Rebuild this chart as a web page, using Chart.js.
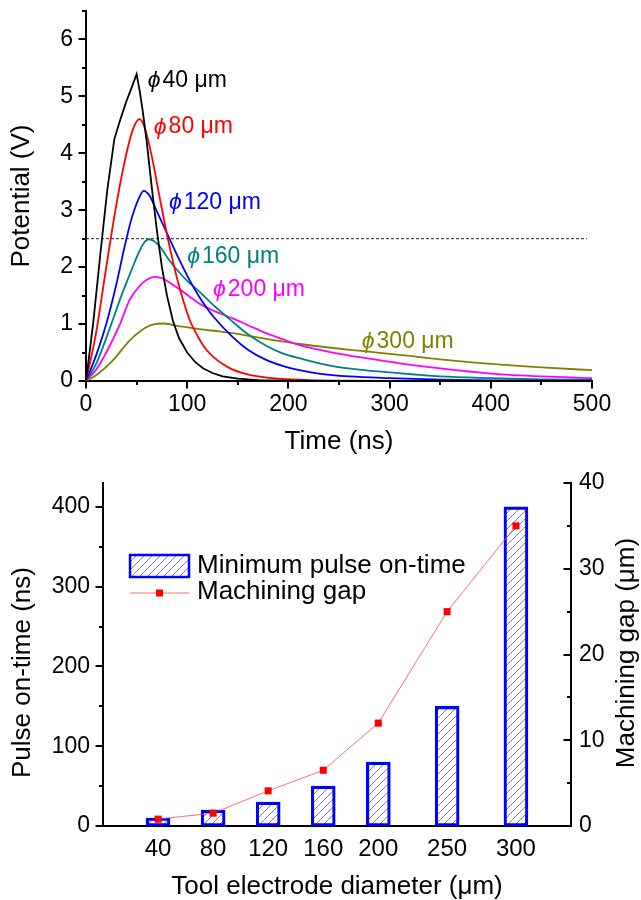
<!DOCTYPE html>
<html><head><meta charset="utf-8">
<script src="https://cdn.jsdelivr.net/npm/chart.js@4.4.0/dist/chart.umd.min.js"></script>
<style>
html,body{margin:0;padding:0;background:#fff;overflow:hidden;width:641px;height:900px;}
#c1{position:absolute;left:0;top:0;}
#c2{position:absolute;left:0;top:468px;}
</style></head><body>
<canvas id="c1" width="641" height="468"></canvas>
<canvas id="c2" width="641" height="432"></canvas>
<script>
// ---------- Top chart data: potential (V) vs time (ns) ----------
const t40 = [0, 7, 14, 21, 28, 34, 40, 45, 50, 53, 56, 60, 65, 70, 75, 80, 86, 92, 100, 108, 116, 125, 135, 150, 170, 200, 250, 500];
const v40 = [0, 1.0, 2.2, 3.35, 4.25, 4.6, 4.92, 5.15, 5.39, 5.1, 4.75, 4.2, 3.4, 2.65, 2.0, 1.5, 1.05, 0.75, 0.5, 0.33, 0.22, 0.14, 0.08, 0.04, 0.015, 0.005, 0, 0];
const t80 = [0, 10, 20, 30, 40, 47, 53, 58, 65, 72, 78, 84, 90, 96, 103, 110, 118, 126, 135, 145, 155, 170, 190, 220, 260, 300, 500];
const v80 = [0, 0.85, 2.0, 3.1, 4.0, 4.45, 4.6, 4.45, 3.95, 3.3, 2.75, 2.25, 1.8, 1.42, 1.05, 0.8, 0.57, 0.42, 0.3, 0.2, 0.14, 0.08, 0.04, 0.015, 0.005, 0, 0];
const t120 = [0, 10, 20, 30, 38, 45, 52, 57, 63, 70, 76, 83, 93, 103, 113, 125, 145, 160, 178, 195, 211, 230, 260, 300, 350, 400, 500];
const v120 = [0, 0.45, 1.0, 1.7, 2.35, 2.85, 3.2, 3.34, 3.25, 2.98, 2.75, 2.48, 2.1, 1.75, 1.45, 1.15, 0.77, 0.55, 0.37, 0.26, 0.19, 0.13, 0.08, 0.05, 0.025, 0.012, 0.004];
const t160 = [0, 10, 25, 35, 45, 52, 57, 62, 67, 73, 80, 90, 100, 112, 128, 145, 160, 178, 195, 211, 244, 270, 300, 350, 400, 450, 500];
const v160 = [0, 0.3, 1.0, 1.5, 1.95, 2.25, 2.42, 2.49, 2.46, 2.36, 2.18, 1.95, 1.76, 1.57, 1.3, 1.04, 0.82, 0.62, 0.48, 0.4, 0.26, 0.2, 0.15, 0.08, 0.05, 0.03, 0.02];
const t200 = [0, 10, 20, 33.6, 43, 52, 60, 68, 76, 85, 95, 105, 113, 132, 145, 160, 178, 195, 211, 244, 277, 310, 350, 400, 450, 500];
const v200 = [0, 0.2, 0.5, 1.0, 1.42, 1.65, 1.78, 1.83, 1.8, 1.7, 1.58, 1.45, 1.35, 1.19, 1.1, 0.98, 0.84, 0.73, 0.63, 0.5, 0.4, 0.31, 0.22, 0.13, 0.08, 0.05];
const t300 = [0, 10, 27, 43.5, 60, 68, 76, 90, 112, 132, 145, 178, 211, 244, 277, 310, 350, 400, 450, 500];
const v300 = [0, 0.1, 0.37, 0.72, 0.95, 1.0, 1.01, 0.97, 0.91, 0.87, 0.84, 0.74, 0.65, 0.58, 0.52, 0.46, 0.38, 0.3, 0.24, 0.19];
const thresholdV = 2.5;
const thresholdT = [0, 495];
const seriesNames = ['40', '80', '120', '160', '200', '300'];

// ---------- Bottom chart data ----------
const diameters = [40, 80, 120, 160, 200, 250, 300];
const pulseOnTime = [10, 20, 30, 50, 80, 150, 400];
const machiningGap = [0.8, 1.5, 4.1, 6.5, 12, 25, 35];

const FONT = "'Liberation Sans', Arial, Helvetica, sans-serif";
Chart.defaults.font.family = FONT;
Chart.defaults.color = '#000';
Chart.defaults.animation = false;

function pts(t, v) { return t.map((x, i) => ({x: x, y: v[i]})); }
function zeroPad(s) { s.paddingLeft = 0; s.paddingRight = 0; s.paddingTop = 0; s.paddingBottom = 0; }

// draws major + minor tick marks through the library scales
const axisTicks = {
  id: 'axisTicks',
  afterDraw(chart, args, opts) {
    const ctx = chart.ctx;
    ctx.save();
    ctx.strokeStyle = '#000';
    ctx.lineWidth = 2;
    for (const a of opts.axes) {
      const s = chart.scales[a.id];
      for (let v = s.min; v <= s.max + 1e-9; v += a.minor) {
        const r = v / a.major;
        const major = Math.abs(r - Math.round(r)) < 1e-6;
        const len = (major ? a.majorLen : a.minorLen) * a.dir;
        const p = Math.round(s.getPixelForValue(v));
        ctx.beginPath();
        if (s.isHorizontal()) { const y0 = s.top; ctx.moveTo(p, y0); ctx.lineTo(p, y0 + len); }
        else if (s.position === 'left') { const x0 = s.right; ctx.moveTo(x0, p); ctx.lineTo(x0 - len, p); }
        else { const x0 = s.left; ctx.moveTo(x0, p); ctx.lineTo(x0 + len, p); }
        ctx.stroke();
      }
    }
    ctx.restore();
  }
};

// curve labels anchored in data space
const curveLabels = {
  id: 'curveLabels',
  afterDatasetsDraw(chart, args, opts) {
    const ctx = chart.ctx, xs = chart.scales.x, ys = chart.scales.y;
    ctx.save();
    ctx.textBaseline = 'middle';
    ctx.textAlign = 'left';
    for (const l of opts.items) {
      const ds = chart.data.datasets[l.ds];
      const x = xs.getPixelForValue(l.t), y = ys.getPixelForValue(l.v);
      ctx.fillStyle = ds.borderColor;
      ctx.font = 'italic 23px ' + FONT;
      ctx.fillText('\u03D5', x, y);
      const w = ctx.measureText('\u03D5').width;
      ctx.font = '23px ' + FONT;
      ctx.fillText(seriesNames[l.ds] + ' \u03BCm', x + w + 2, y);
    }
    ctx.restore();
  }
};

const colors = ['#000000', '#ff0000', '#0000ff', '#008080', '#ff00ff', '#808000'];
const tArr = [t40, t80, t120, t160, t200, t300];
const vArr = [v40, v80, v120, v160, v200, v300];
const topDatasets = tArr.map((t, i) => ({
  label: '\u03D5' + seriesNames[i] + ' \u03BCm',
  data: pts(t, vArr[i]),
  borderColor: colors[i],
  borderWidth: 1.8,
  pointRadius: 0,
  fill: false,
  tension: 0,
  cubicInterpolationMode: i === 0 ? 'default' : 'monotone'
}));
topDatasets.push({
  label: 'threshold',
  data: thresholdT.map(t => ({x: t, y: thresholdV})),
  borderColor: '#222',
  borderWidth: 1,
  borderDash: [3, 2],
  pointRadius: 0,
  fill: false
});

new Chart(document.getElementById('c1'), {
  type: 'line',
  data: {datasets: topDatasets},
  options: {
    responsive: false,
    layout: {padding: {left: 0, top: 11, right: 49, bottom: 0}},
    plugins: {
      legend: {display: false},
      tooltip: {enabled: false},
      axisTicks: {axes: [
        {id: 'x', major: 100, minor: 50, majorLen: 7.5, minorLen: 4, dir: 1},
        {id: 'y', major: 1, minor: 0.5, majorLen: 7.5, minorLen: 4, dir: 1}
      ]},
      curveLabels: {items: [
        {ds: 0, t: 61, v: 5.28}, {ds: 1, t: 67, v: 4.46}, {ds: 2, t: 82, v: 3.14},
        {ds: 3, t: 100, v: 2.18}, {ds: 4, t: 125.5, v: 1.6}, {ds: 5, t: 272.5, v: 0.69}
      ]}
    },
    scales: {
      x: {
        type: 'linear', min: 0, max: 500,
        ticks: {stepSize: 100, font: {size: 23, lineHeight: 1}, padding: 12, maxRotation: 0},
        grid: {display: false, drawTicks: false},
        border: {display: true, width: 2, color: '#000'},
        title: {display: true, text: 'Time (ns)', font: {size: 26, lineHeight: 1}, padding: {top: 0, bottom: 13}},
        afterFit(s) { s.height = 87; zeroPad(s); }
      },
      y: {
        type: 'linear', min: 0, max: 6.5,
        ticks: {stepSize: 1, includeBounds: false, font: {size: 23, lineHeight: 1}, padding: 13},
        grid: {display: false, drawTicks: false},
        border: {display: true, width: 2, color: '#000'},
        title: {display: true, text: 'Potential (V)', font: {size: 26, lineHeight: 1}, padding: {top: 9, bottom: 0}},
        afterFit(s) { s.width = 86; zeroPad(s); }
      }
    }
  },
  plugins: [axisTicks, curveLabels]
});

// ---------- bottom chart ----------
const HATCH_COLOR = '#7a7aff';
const HATCH_STEP = 8;
function drawHatch(ctx, x0, y0, x1, y1) {
  ctx.save();
  ctx.beginPath();
  ctx.rect(x0, y0, x1 - x0, y1 - y0);
  ctx.clip();
  ctx.strokeStyle = HATCH_COLOR;
  ctx.lineWidth = 1;
  ctx.beginPath();
  const kMin = Math.floor((x0 + y0) / HATCH_STEP) - 1;
  const kMax = Math.ceil((x1 + y1) / HATCH_STEP) + 1;
  for (let k = kMin; k <= kMax; k++) {
    const c = k * HATCH_STEP;
    ctx.moveTo(c - y1, y1);
    ctx.lineTo(c - y0, y0);
  }
  ctx.stroke();
  ctx.restore();
}

const hatchBars = {
  id: 'hatchBars',
  beforeDatasetDraw(chart, args) {
    if (args.index !== 0) return;
    const ctx = chart.ctx;
    for (const el of args.meta.data) {
      const p = el.getProps(['x', 'y', 'base', 'width'], true);
      drawHatch(ctx, p.x - p.width / 2, Math.min(p.y, p.base), p.x + p.width / 2, Math.max(p.y, p.base));
    }
  }
};

const bottomTitles = {
  id: 'bottomTitles',
  afterDraw(chart, args, opts) {
    const ctx = chart.ctx;
    ctx.save();
    ctx.fillStyle = '#000';
    ctx.font = '26px ' + FONT;
    ctx.textAlign = 'center';
    ctx.textBaseline = 'middle';
    for (const t of opts.items) {
      ctx.save();
      ctx.translate(t.x, t.y);
      ctx.rotate(-Math.PI / 2);
      ctx.fillText(t.text, 0, 0);
      ctx.restore();
    }
    ctx.restore();
  }
};

const customLegend = {
  id: 'customLegend',
  afterDraw(chart, args, opts) {
    const ctx = chart.ctx;
    const bar = chart.data.datasets[0], line = chart.data.datasets[1];
    ctx.save();
    ctx.fillStyle = '#ffffff';
    ctx.fillRect(opts.x, opts.y1 - 11, 59, 22);
    drawHatch(ctx, opts.x, opts.y1 - 11, opts.x + 59, opts.y1 + 11);
    ctx.strokeStyle = bar.borderColor;
    ctx.lineWidth = 2.5;
    ctx.strokeRect(opts.x, opts.y1 - 11, 59, 22);
    ctx.strokeStyle = line.borderColor;
    ctx.lineWidth = line.borderWidth;
    ctx.beginPath();
    ctx.moveTo(opts.x, opts.y2); ctx.lineTo(opts.x + 59, opts.y2);
    ctx.stroke();
    ctx.fillStyle = line.pointBackgroundColor;
    ctx.fillRect(opts.x + 29.5 - 3.5, opts.y2 - 3.5, 7, 7);
    ctx.fillStyle = '#000';
    ctx.font = '26px ' + FONT;
    ctx.textBaseline = 'middle';
    ctx.textAlign = 'left';
    ctx.fillText(bar.label, opts.x + 67, opts.y1);
    ctx.fillText(line.label, opts.x + 67, opts.y2 - 1);
    ctx.restore();
  }
};

new Chart(document.getElementById('c2'), {
  type: 'bar',
  data: {
    datasets: [
      {
        type: 'bar',
        label: 'Minimum pulse on-time',
        data: pts(diameters, pulseOnTime),
        backgroundColor: 'rgba(255,255,255,0)',
        borderColor: '#0000ff',
        borderWidth: 2.5,
        borderSkipped: false,
        barThickness: 24,
        yAxisID: 'y',
        order: 2
      },
      {
        type: 'line',
        label: 'Machining gap',
        data: pts(diameters, machiningGap),
        borderColor: 'rgba(255,60,60,0.75)',
        borderWidth: 1,
        pointStyle: 'rect',
        pointRadius: 5,
        pointBackgroundColor: '#ff0000',
        pointBorderWidth: 0,
        tension: 0,
        yAxisID: 'y1',
        order: 1
      }
    ]
  },
  options: {
    responsive: false,
    layout: {padding: {left: 0, top: 15, right: 0, bottom: 0}},
    plugins: {
      legend: {display: false},
      tooltip: {enabled: false},
      axisTicks: {axes: [
        {id: 'y', major: 100, minor: 50, majorLen: 7.5, minorLen: 4, dir: 1},
        {id: 'y1', major: 10, minor: 5, majorLen: 7.5, minorLen: 4, dir: -1}
      ]},
      bottomTitles: {items: [
        {text: 'Pulse on-time (ns)', x: 23, y: 204.5},
        {text: 'Machining gap (\u03BCm)', x: 627, y: 185}
      ]},
      customLegend: {x: 130, y1: 98, y2: 125}
    },
    scales: {
      x: {
        type: 'linear', min: 0, max: 340, offset: false,
        afterBuildTicks(s) { s.ticks = diameters.map(v => ({value: v})); },
        ticks: {font: {size: 24, lineHeight: 1}, padding: 11, autoSkip: false, maxRotation: 0},
        grid: {display: false, drawTicks: false, offset: false},
        border: {display: true, width: 2, color: '#000'},
        title: {display: true, text: 'Tool electrode diameter (\u03BCm)', font: {size: 26, lineHeight: 1}, padding: {top: 0, bottom: 0}},
        afterFit(s) { s.height = 74; zeroPad(s); }
      },
      y: {
        type: 'linear', position: 'left', min: 0, max: 430,
        ticks: {stepSize: 100, includeBounds: false, font: {size: 23, lineHeight: 1}, padding: 13},
        grid: {display: false, drawTicks: false},
        border: {display: true, width: 2, color: '#000'},
        afterFit(s) { s.width = 103; zeroPad(s); }
      },
      y1: {
        type: 'linear', position: 'right', min: 0, max: 40,
        ticks: {stepSize: 10, includeBounds: false, font: {size: 23, lineHeight: 1}, padding: 8},
        grid: {display: false, drawTicks: false},
        border: {display: true, width: 2, color: '#000'},
        afterFit(s) { s.width = 70; zeroPad(s); }
      }
    }
  },
  plugins: [axisTicks, hatchBars, bottomTitles, customLegend]
});
</script>
</body></html>
